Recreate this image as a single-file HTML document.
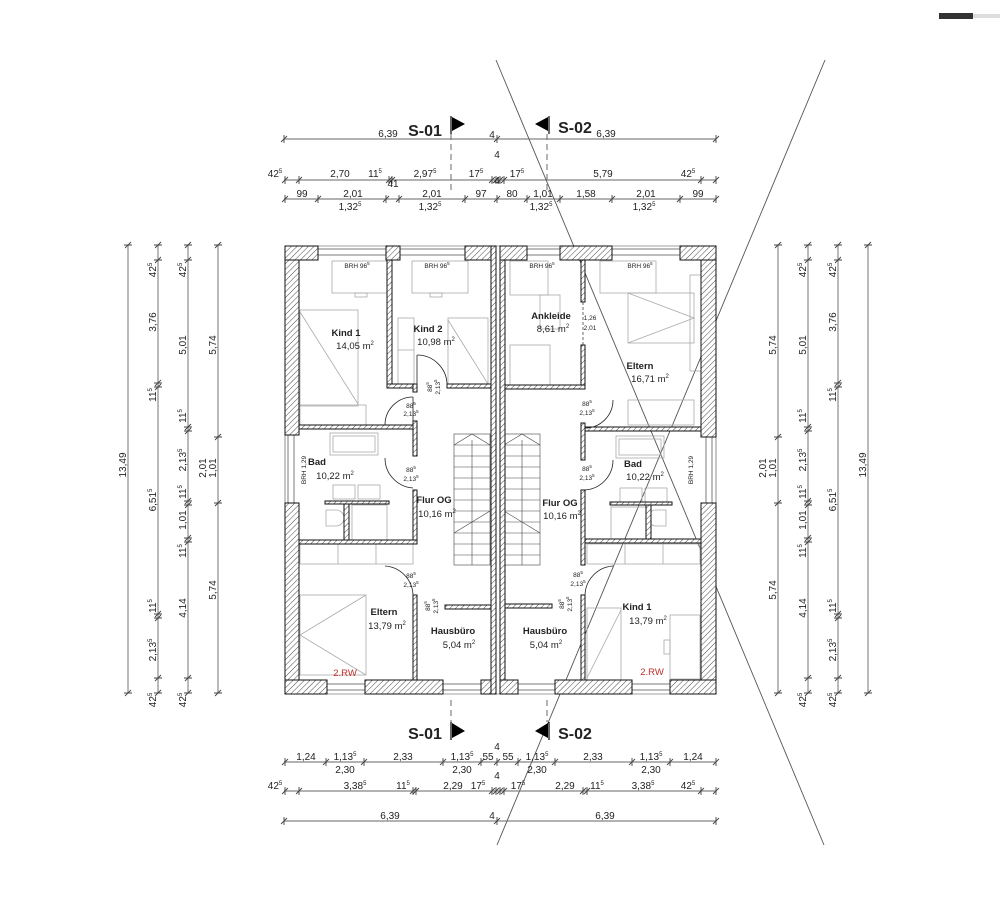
<!DOCTYPE html>
<html><head><meta charset="utf-8"><style>
html,body{margin:0;padding:0;background:#fff}
svg{display:block}
text{font-family:"Liberation Sans",Arial,sans-serif;fill:#222}
.d{font-size:10px;text-anchor:middle}
.s{font-size:6px}
.r{font-size:9.5px;font-weight:bold;text-anchor:middle}
.a{font-size:9.5px;text-anchor:middle}
.sm{font-size:6.5px;text-anchor:middle}
.w{fill:url(#h);stroke:#111;stroke-width:1}
.f{fill:none;stroke:#aaa;stroke-width:0.8}
.dl{stroke:#666;stroke-width:0.9;fill:none}
</style></head><body>
<svg width="1000" height="907" viewBox="0 0 1000 907" xmlns="http://www.w3.org/2000/svg">
<defs>
<pattern id="h" width="4" height="4" patternUnits="userSpaceOnUse" patternTransform="rotate(45)">
<rect width="4" height="4" fill="#fff"/><line x1="0" y1="0" x2="0" y2="4" stroke="#333" stroke-width="0.9"/>
</pattern>
<g id="tk"><path d="M-3 3L3-3M0-4V4" stroke="#444" stroke-width="0.9"/></g>
<g id="tv"><path d="M-3 3L3-3M-4 0H4" stroke="#444" stroke-width="0.9"/></g>
</defs>
<rect width="1000" height="907" fill="#fff"/>
<!-- top right bar -->
<rect x="939" y="13" width="34" height="6" fill="#333"/><rect x="973" y="14" width="27" height="4" fill="#ddd"/>

<!-- Diagonal lines -->
<line x1="496" y1="60" x2="824" y2="845" stroke="#555" stroke-width="0.9"/>
<line x1="825" y1="60" x2="497" y2="845" stroke="#555" stroke-width="0.9"/>

<!-- ===== TOP DIMENSIONS ===== -->
<text x="425" y="136" style="font-size:16px;font-weight:bold" text-anchor="middle">S-01</text>
<path d="M451 116V134" stroke="#000" stroke-width="1.2"/><path d="M452 117L465 124L452 131Z" fill="#000"/>
<path d="M549 116V134" stroke="#000" stroke-width="1.2"/><path d="M548 117L535 124L548 131Z" fill="#000"/>
<text x="575" y="133" style="font-size:16px;font-weight:bold" text-anchor="middle">S-02</text>
<path d="M451 134V192M547 134V192" stroke="#444" stroke-dasharray="6,4" stroke-width="0.8"/>

<line class="dl" x1="284" y1="139" x2="716" y2="139"/>
<use href="#tk" x="284" y="139"/><use href="#tk" x="497" y="139"/><use href="#tk" x="716" y="139"/>
<text class="d" x="388" y="137">6,39</text><text class="d" x="492" y="138">4</text><text class="d" x="606" y="137">6,39</text>

<line class="dl" x1="284" y1="180" x2="716" y2="180"/>
<use href="#tk" x="285" y="180"/><use href="#tk" x="299" y="180"/><use href="#tk" x="389" y="180"/><use href="#tk" x="392" y="180"/><use href="#tk" x="492" y="180"/><use href="#tk" x="496" y="180"/><use href="#tk" x="500" y="180"/><use href="#tk" x="504" y="180"/><use href="#tk" x="701" y="180"/><use href="#tk" x="716" y="180"/>
<text class="d" x="275" y="177">42<tspan class="s" dy="-4">5</tspan></text>
<text class="d" x="340" y="177">2,70</text>
<text class="d" x="375" y="177">11<tspan class="s" dy="-4">5</tspan></text>
<text class="d" x="425" y="177">2,97<tspan class="s" dy="-4">5</tspan></text>
<text class="d" x="476" y="177">17<tspan class="s" dy="-4">5</tspan></text>
<text class="d" x="497" y="158">4</text>
<text class="d" x="517" y="177">17<tspan class="s" dy="-4">5</tspan></text>
<text class="d" x="603" y="177">5,79</text>
<text class="d" x="688" y="177">42<tspan class="s" dy="-4">5</tspan></text>

<line class="dl" x1="284" y1="199" x2="716" y2="199"/>
<use href="#tk" x="285" y="199"/><use href="#tk" x="318" y="199"/><use href="#tk" x="386" y="199"/><use href="#tk" x="399" y="199"/><use href="#tk" x="465" y="199"/><use href="#tk" x="497" y="199"/><use href="#tk" x="527" y="199"/><use href="#tk" x="560" y="199"/><use href="#tk" x="612" y="199"/><use href="#tk" x="680" y="199"/><use href="#tk" x="716" y="199"/>
<text class="d" x="302" y="197">99</text>
<text class="d" x="353" y="197">2,01</text>
<text class="d" x="393" y="187">41</text>
<text class="d" x="432" y="197">2,01</text>
<text class="d" x="481" y="197">97</text>
<text class="d" x="497" y="184">4</text>
<text class="d" x="512" y="197">80</text>
<text class="d" x="543" y="197">1,01</text>
<text class="d" x="586" y="197">1,58</text>
<text class="d" x="646" y="197">2,01</text>
<text class="d" x="698" y="197">99</text>
<text class="d" x="350" y="210">1,32<tspan class="s" dy="-4">5</tspan></text>
<text class="d" x="430" y="210">1,32<tspan class="s" dy="-4">5</tspan></text>
<text class="d" x="541" y="210">1,32<tspan class="s" dy="-4">5</tspan></text>
<text class="d" x="644" y="210">1,32<tspan class="s" dy="-4">5</tspan></text>

<!-- ===== BOTTOM DIMENSIONS ===== -->
<path d="M451 700V722" stroke="#444" stroke-dasharray="6,4" stroke-width="0.8"/>
<path d="M547 700V722" stroke="#444" stroke-dasharray="6,4" stroke-width="0.8"/>
<text x="425" y="739" style="font-size:16px;font-weight:bold" text-anchor="middle">S-01</text>
<path d="M451 722V740" stroke="#000" stroke-width="1.2"/><path d="M452 723L465 731L452 738Z" fill="#000"/>
<path d="M549 722V740" stroke="#000" stroke-width="1.2"/><path d="M548 723L535 731L548 738Z" fill="#000"/>
<text x="575" y="739" style="font-size:16px;font-weight:bold" text-anchor="middle">S-02</text>

<line class="dl" x1="284" y1="762" x2="716" y2="762"/>
<use href="#tk" x="285" y="762"/><use href="#tk" x="326" y="762"/><use href="#tk" x="364" y="762"/><use href="#tk" x="443" y="762"/><use href="#tk" x="481" y="762"/><use href="#tk" x="497" y="762"/><use href="#tk" x="518" y="762"/><use href="#tk" x="555" y="762"/><use href="#tk" x="632" y="762"/><use href="#tk" x="670" y="762"/><use href="#tk" x="716" y="762"/>
<text class="d" x="306" y="760">1,24</text>
<text class="d" x="345" y="760">1,13<tspan class="s" dy="-4">5</tspan></text>
<text class="d" x="403" y="760">2,33</text>
<text class="d" x="462" y="760">1,13<tspan class="s" dy="-4">5</tspan></text>
<text class="d" x="488" y="760">55</text>
<text class="d" x="508" y="760">55</text>
<text class="d" x="537" y="760">1,13<tspan class="s" dy="-4">5</tspan></text>
<text class="d" x="593" y="760">2,33</text>
<text class="d" x="651" y="760">1,13<tspan class="s" dy="-4">5</tspan></text>
<text class="d" x="693" y="760">1,24</text>
<text class="d" x="497" y="750">4</text>
<text class="d" x="345" y="773">2,30</text>
<text class="d" x="462" y="773">2,30</text>
<text class="d" x="537" y="773">2,30</text>
<text class="d" x="651" y="773">2,30</text>

<line class="dl" x1="284" y1="791" x2="716" y2="791"/>
<use href="#tk" x="285" y="791"/><use href="#tk" x="299" y="791"/><use href="#tk" x="413" y="791"/><use href="#tk" x="416" y="791"/><use href="#tk" x="492" y="791"/><use href="#tk" x="496" y="791"/><use href="#tk" x="500" y="791"/><use href="#tk" x="504" y="791"/><use href="#tk" x="583" y="791"/><use href="#tk" x="587" y="791"/><use href="#tk" x="701" y="791"/><use href="#tk" x="716" y="791"/>
<text class="d" x="275" y="789">42<tspan class="s" dy="-4">5</tspan></text>
<text class="d" x="355" y="789">3,38<tspan class="s" dy="-4">5</tspan></text>
<text class="d" x="403" y="789">11<tspan class="s" dy="-4">5</tspan></text>
<text class="d" x="453" y="789">2,29</text>
<text class="d" x="478" y="789">17<tspan class="s" dy="-4">5</tspan></text>
<text class="d" x="497" y="779">4</text>
<text class="d" x="518" y="789">17<tspan class="s" dy="-4">5</tspan></text>
<text class="d" x="565" y="789">2,29</text>
<text class="d" x="597" y="789">11<tspan class="s" dy="-4">5</tspan></text>
<text class="d" x="643" y="789">3,38<tspan class="s" dy="-4">5</tspan></text>
<text class="d" x="688" y="789">42<tspan class="s" dy="-4">5</tspan></text>

<line class="dl" x1="284" y1="821" x2="716" y2="821"/>
<use href="#tk" x="284" y="821"/><use href="#tk" x="497" y="821"/><use href="#tk" x="716" y="821"/>
<text class="d" x="390" y="819">6,39</text><text class="d" x="492" y="819">4</text><text class="d" x="605" y="819">6,39</text>

<!-- ===== LEFT VERTICAL DIMS ===== -->
<g>
<line class="dl" x1="128" y1="245" x2="128" y2="693"/>
<use href="#tv" x="128" y="245"/><use href="#tv" x="128" y="693"/>
<text class="d" transform="translate(126,465) rotate(-90)">13,49</text>

<line class="dl" x1="158" y1="245" x2="158" y2="693"/>
<use href="#tv" x="158" y="245"/><use href="#tv" x="158" y="260"/><use href="#tv" x="158" y="383"/><use href="#tv" x="158" y="387"/><use href="#tv" x="158" y="614"/><use href="#tv" x="158" y="618"/><use href="#tv" x="158" y="678"/><use href="#tv" x="158" y="693"/>
<text class="d" transform="translate(156,270) rotate(-90)">42<tspan class="s" dy="-4">5</tspan></text>
<text class="d" transform="translate(156,322) rotate(-90)">3,76</text>
<text class="d" transform="translate(156,395) rotate(-90)">11<tspan class="s" dy="-4">5</tspan></text>
<text class="d" transform="translate(156,500) rotate(-90)">6,51<tspan class="s" dy="-4">5</tspan></text>
<text class="d" transform="translate(156,606) rotate(-90)">11<tspan class="s" dy="-4">5</tspan></text>
<text class="d" transform="translate(156,650) rotate(-90)">2,13<tspan class="s" dy="-4">5</tspan></text>
<text class="d" transform="translate(156,700) rotate(-90)">42<tspan class="s" dy="-4">5</tspan></text>

<line class="dl" x1="188" y1="245" x2="188" y2="693"/>
<use href="#tv" x="188" y="245"/><use href="#tv" x="188" y="260"/><use href="#tv" x="188" y="427"/><use href="#tv" x="188" y="431"/><use href="#tv" x="188" y="501"/><use href="#tv" x="188" y="505"/><use href="#tv" x="188" y="538"/><use href="#tv" x="188" y="542"/><use href="#tv" x="188" y="678"/><use href="#tv" x="188" y="693"/>
<text class="d" transform="translate(186,270) rotate(-90)">42<tspan class="s" dy="-4">5</tspan></text>
<text class="d" transform="translate(186,345) rotate(-90)">5,01</text>
<text class="d" transform="translate(186,416) rotate(-90)">11<tspan class="s" dy="-4">5</tspan></text>
<text class="d" transform="translate(186,460) rotate(-90)">2,13<tspan class="s" dy="-4">5</tspan></text>
<text class="d" transform="translate(186,492) rotate(-90)">11<tspan class="s" dy="-4">5</tspan></text>
<text class="d" transform="translate(186,520) rotate(-90)">1,01</text>
<text class="d" transform="translate(186,551) rotate(-90)">11<tspan class="s" dy="-4">5</tspan></text>
<text class="d" transform="translate(186,608) rotate(-90)">4,14</text>
<text class="d" transform="translate(186,700) rotate(-90)">42<tspan class="s" dy="-4">5</tspan></text>

<line class="dl" x1="218" y1="245" x2="218" y2="693"/>
<use href="#tv" x="218" y="245"/><use href="#tv" x="218" y="437"/><use href="#tv" x="218" y="503"/><use href="#tv" x="218" y="693"/>
<text class="d" transform="translate(216,345) rotate(-90)">5,74</text>
<text class="d" transform="translate(206,468) rotate(-90)">2,01</text>
<text class="d" transform="translate(216,468) rotate(-90)">1,01</text>
<text class="d" transform="translate(216,590) rotate(-90)">5,74</text>
</g>

<!-- ===== RIGHT VERTICAL DIMS ===== -->
<g>
<line class="dl" x1="778" y1="245" x2="778" y2="693"/>
<use href="#tv" x="778" y="245"/><use href="#tv" x="778" y="437"/><use href="#tv" x="778" y="503"/><use href="#tv" x="778" y="693"/>
<text class="d" transform="translate(776,345) rotate(-90)">5,74</text>
<text class="d" transform="translate(766,468) rotate(-90)">2,01</text>
<text class="d" transform="translate(776,468) rotate(-90)">1,01</text>
<text class="d" transform="translate(776,590) rotate(-90)">5,74</text>

<line class="dl" x1="808" y1="245" x2="808" y2="693"/>
<use href="#tv" x="808" y="245"/><use href="#tv" x="808" y="260"/><use href="#tv" x="808" y="427"/><use href="#tv" x="808" y="431"/><use href="#tv" x="808" y="501"/><use href="#tv" x="808" y="505"/><use href="#tv" x="808" y="538"/><use href="#tv" x="808" y="542"/><use href="#tv" x="808" y="678"/><use href="#tv" x="808" y="693"/>
<text class="d" transform="translate(806,270) rotate(-90)">42<tspan class="s" dy="-4">5</tspan></text>
<text class="d" transform="translate(806,345) rotate(-90)">5,01</text>
<text class="d" transform="translate(806,416) rotate(-90)">11<tspan class="s" dy="-4">5</tspan></text>
<text class="d" transform="translate(806,460) rotate(-90)">2,13<tspan class="s" dy="-4">5</tspan></text>
<text class="d" transform="translate(806,492) rotate(-90)">11<tspan class="s" dy="-4">5</tspan></text>
<text class="d" transform="translate(806,520) rotate(-90)">1,01</text>
<text class="d" transform="translate(806,551) rotate(-90)">11<tspan class="s" dy="-4">5</tspan></text>
<text class="d" transform="translate(806,608) rotate(-90)">4,14</text>
<text class="d" transform="translate(806,700) rotate(-90)">42<tspan class="s" dy="-4">5</tspan></text>

<line class="dl" x1="838" y1="245" x2="838" y2="693"/>
<use href="#tv" x="838" y="245"/><use href="#tv" x="838" y="260"/><use href="#tv" x="838" y="383"/><use href="#tv" x="838" y="387"/><use href="#tv" x="838" y="614"/><use href="#tv" x="838" y="618"/><use href="#tv" x="838" y="678"/><use href="#tv" x="838" y="693"/>
<text class="d" transform="translate(836,270) rotate(-90)">42<tspan class="s" dy="-4">5</tspan></text>
<text class="d" transform="translate(836,322) rotate(-90)">3,76</text>
<text class="d" transform="translate(836,395) rotate(-90)">11<tspan class="s" dy="-4">5</tspan></text>
<text class="d" transform="translate(836,500) rotate(-90)">6,51<tspan class="s" dy="-4">5</tspan></text>
<text class="d" transform="translate(836,606) rotate(-90)">11<tspan class="s" dy="-4">5</tspan></text>
<text class="d" transform="translate(836,650) rotate(-90)">2,13<tspan class="s" dy="-4">5</tspan></text>
<text class="d" transform="translate(836,700) rotate(-90)">42<tspan class="s" dy="-4">5</tspan></text>

<line class="dl" x1="868" y1="245" x2="868" y2="693"/>
<use href="#tv" x="868" y="245"/><use href="#tv" x="868" y="693"/>
<text class="d" transform="translate(866,465) rotate(-90)">13,49</text>
</g>

<!-- ===== FURNITURE (light) ===== -->
<g class="f">
<!-- left unit -->
<rect x="332" y="261" width="56" height="32"/><rect x="355" y="293" width="12" height="4"/>
<rect x="412" y="261" width="56" height="32"/><rect x="430" y="293" width="12" height="4"/>
<rect x="300" y="310" width="58" height="96"/><path d="M300 312L358 404"/>
<rect x="448" y="318" width="40" height="66"/><path d="M448 320L488 384"/>
<rect x="398" y="318" width="16" height="66"/><path d="M398 350H414"/>
<rect x="300" y="405" width="66" height="20"/>
<rect x="330" y="433" width="48" height="22"/><rect x="333" y="436" width="42" height="16"/>
<rect x="333" y="485" width="22" height="14"/><rect x="358" y="485" width="22" height="14"/>
<rect x="352" y="505" width="35" height="35"/>
<path d="M326 510h10a8 8 0 0 1 0 16h-10z"/>
<rect x="300" y="544" width="113" height="20"/><path d="M338 544v20M376 544v20"/>
<rect x="300" y="595" width="66" height="80"/><path d="M366 595L300 635L366 675"/>
<!-- right unit -->
<rect x="510" y="261" width="38" height="34"/><rect x="540" y="295" width="20" height="34"/>
<rect x="600" y="261" width="56" height="32"/>
<rect x="628" y="293" width="66" height="50"/><path d="M628 293L694 318L628 343"/>
<rect x="690" y="275" width="12" height="96"/>
<rect x="510" y="345" width="40" height="40"/>
<rect x="628" y="400" width="66" height="25"/>
<rect x="616" y="436" width="48" height="22"/><rect x="619" y="439" width="42" height="16"/>
<rect x="620" y="488" width="22" height="14"/><rect x="645" y="488" width="22" height="14"/>
<rect x="611" y="507" width="35" height="32"/>
<path d="M666 510h-10a8 8 0 0 0 0 16h10z"/>
<rect x="587" y="544" width="113" height="20"/><path d="M625 544v20M663 544v20"/>
<rect x="587" y="608" width="34" height="72"/><path d="M621 610L587 678"/>
<rect x="670" y="615" width="30" height="64"/><rect x="664" y="640" width="6" height="14"/>
</g>

<!-- ===== STAIRS ===== -->
<g stroke="#444" stroke-width="0.6" fill="none">
<rect x="454" y="434" width="36" height="131"/>
<path d="M454 445H490M454 456H490M454 467H490M454 478H490M454 489H490M454 500H490M454 511H490M454 522H490M454 533H490M454 544H490M454 555H490"/>
<path d="M454 445L472 434L490 445M454 533L490 511M472 440V565"/>
<rect x="504" y="434" width="36" height="131"/>
<path d="M504 445H540M504 456H540M504 467H540M504 478H540M504 489H540M504 500H540M504 511H540M504 522H540M504 533H540M504 544H540M504 555H540"/>
<path d="M504 445L522 434L540 445M540 533L504 511M522 440V565"/>
</g>

<!-- ===== WALLS ===== -->
<g>
<!-- windows frames (thin) -->
<g fill="#fff" stroke="#444" stroke-width="0.7">
<rect x="318" y="249" width="68" height="6"/><rect x="400" y="249" width="65" height="6"/>
<rect x="527" y="249" width="33" height="6"/><rect x="612" y="249" width="68" height="6"/>
<rect x="327" y="684" width="38" height="6"/><rect x="443" y="684" width="38" height="6"/>
<rect x="518" y="684" width="37" height="6"/><rect x="632" y="684" width="38" height="6"/>
<rect x="288" y="435" width="6" height="68"/><rect x="706" y="437" width="6" height="66"/>
</g>
<path d="M285 246H716M285 694H716M285 246V694M716 246V694" stroke="#444" stroke-width="0.6" fill="none"/>
<!-- left outer -->
<rect class="w" x="285" y="246" width="14" height="189"/>
<rect class="w" x="285" y="503" width="14" height="191"/>
<rect class="w" x="285" y="246" width="33" height="14"/>
<rect class="w" x="386" y="246" width="14" height="14"/>
<rect class="w" x="465" y="246" width="31" height="14"/>
<rect class="w" x="285" y="680" width="42" height="14"/>
<rect class="w" x="365" y="680" width="78" height="14"/>
<rect class="w" x="481" y="680" width="15" height="14"/>
<!-- party walls -->
<rect class="w" x="491" y="246" width="5" height="448"/>
<rect class="w" x="500" y="246" width="5" height="448"/>
<!-- right outer -->
<rect class="w" x="701" y="246" width="15" height="191"/>
<rect class="w" x="701" y="503" width="15" height="191"/>
<rect class="w" x="500" y="246" width="27" height="14"/>
<rect class="w" x="560" y="246" width="52" height="14"/>
<rect class="w" x="680" y="246" width="36" height="14"/>
<rect class="w" x="500" y="680" width="18" height="14"/>
<rect class="w" x="555" y="680" width="77" height="14"/>
<rect class="w" x="670" y="680" width="46" height="14"/>
<!-- left interior -->
<rect class="w" x="387" y="260" width="5" height="128"/>
<rect class="w" x="387" y="384" width="28" height="4"/>
<rect class="w" x="413" y="384" width="4" height="8"/>
<rect class="w" x="447" y="384" width="44" height="4"/>
<rect class="w" x="299" y="425" width="118" height="4"/>
<rect class="w" x="413" y="421" width="4" height="35"/>
<rect class="w" x="413" y="490" width="4" height="54"/>
<rect class="w" x="299" y="540" width="118" height="4"/>
<rect class="w" x="325" y="501" width="64" height="3"/>
<rect class="w" x="344" y="504" width="5" height="36"/>
<rect class="w" x="413" y="595" width="4" height="85"/>
<rect class="w" x="445" y="605" width="46" height="4"/>
<!-- right interior -->
<rect class="w" x="581" y="260" width="4" height="42"/>
<rect class="w" x="581" y="345" width="4" height="44"/>
<rect class="w" x="505" y="385" width="80" height="4"/>
<rect class="w" x="581" y="423" width="4" height="37"/>
<rect class="w" x="585" y="427" width="116" height="4"/>
<rect class="w" x="581" y="490" width="4" height="75"/>
<rect class="w" x="585" y="539" width="116" height="4"/>
<rect class="w" x="610" y="502" width="62" height="3"/>
<rect class="w" x="646" y="505" width="5" height="34"/>
<rect class="w" x="581" y="595" width="4" height="85"/>
<rect class="w" x="505" y="604" width="47" height="4"/>
<path d="M583 302V345" stroke="#444" stroke-width="0.8" stroke-dasharray="3,2"/>
</g>

<!-- doors -->
<g fill="none" stroke="#222" stroke-width="0.8">
<path d="M385 425A28 28 0 0 1 413 397"/><path d="M413 425V397"/>
<path d="M417 355A30 30 0 0 1 447 385"/><path d="M417 385V355"/>
<path d="M385 458A30 30 0 0 0 413 488"/>
<path d="M385 566A30 30 0 0 1 413 595"/>
<path d="M613 400A28 28 0 0 1 585 428"/>
<path d="M613 460A30 30 0 0 1 585 490"/>
<path d="M613 566A30 30 0 0 0 585 595"/>
</g>

<!-- ===== LABELS ===== -->
<g>
<text class="sm" x="357" y="268">BRH 96<tspan dy="-3" font-size="4.5">5</tspan></text>
<text class="sm" x="437" y="268">BRH 96<tspan dy="-3" font-size="4.5">5</tspan></text>
<text class="sm" x="542" y="268">BRH 96<tspan dy="-3" font-size="4.5">5</tspan></text>
<text class="sm" x="640" y="268">BRH 96<tspan dy="-3" font-size="4.5">5</tspan></text>
<text class="sm" transform="translate(306,470) rotate(-90)">BRH 1,29</text>
<text class="sm" transform="translate(693,470) rotate(-90)">BRH 1,29</text>

<text class="r" x="346" y="336">Kind 1</text><text class="a" x="355" y="349">14,05 m<tspan dy="-4" font-size="6">2</tspan></text>
<text class="r" x="428" y="332">Kind 2</text><text class="a" x="436" y="345">10,98 m<tspan dy="-4" font-size="6">2</tspan></text>
<text class="r" x="317" y="465">Bad</text><text class="a" x="335" y="479">10,22 m<tspan dy="-4" font-size="6">2</tspan></text>
<text class="r" x="434" y="503">Flur OG</text><text class="a" x="437" y="517">10,16 m<tspan dy="-4" font-size="6">2</tspan></text>
<text class="r" x="384" y="615">Eltern</text><text class="a" x="387" y="629">13,79 m<tspan dy="-4" font-size="6">2</tspan></text>
<text class="r" x="453" y="634">Hausbüro</text><text class="a" x="459" y="648">5,04 m<tspan dy="-4" font-size="6">2</tspan></text>
<text class="a" x="345" y="676" style="fill:#c0302a">2.RW</text>

<text class="r" x="551" y="319">Ankleide</text><text class="a" x="553" y="332">8,61 m<tspan dy="-4" font-size="6">2</tspan></text>
<text class="r" x="640" y="369">Eltern</text><text class="a" x="650" y="382">16,71 m<tspan dy="-4" font-size="6">2</tspan></text>
<text class="r" x="633" y="467">Bad</text><text class="a" x="645" y="480">10,22 m<tspan dy="-4" font-size="6">2</tspan></text>
<text class="r" x="560" y="506">Flur OG</text><text class="a" x="562" y="519">10,16 m<tspan dy="-4" font-size="6">2</tspan></text>
<text class="r" x="637" y="610">Kind 1</text><text class="a" x="648" y="624">13,79 m<tspan dy="-4" font-size="6">2</tspan></text>
<text class="r" x="545" y="634">Hausbüro</text><text class="a" x="546" y="648">5,04 m<tspan dy="-4" font-size="6">2</tspan></text>
<text class="a" x="652" y="675" style="fill:#c0302a">2.RW</text>

<!-- door dims -->
<g class="sm">
<text x="411" y="408">88<tspan dy="-3" font-size="4.5">5</tspan></text><text x="411" y="416">2,13<tspan dy="-3" font-size="4.5">5</tspan></text>
<text transform="translate(432,387) rotate(-90)" x="0" y="0">88<tspan dy="-3" font-size="4.5">5</tspan></text><text transform="translate(440,387) rotate(-90)">2,13<tspan dy="-3" font-size="4.5">5</tspan></text>
<text x="411" y="472">88<tspan dy="-3" font-size="4.5">5</tspan></text><text x="411" y="481">2,13<tspan dy="-3" font-size="4.5">5</tspan></text>
<text x="411" y="578">88<tspan dy="-3" font-size="4.5">5</tspan></text><text x="411" y="587">2,13<tspan dy="-3" font-size="4.5">5</tspan></text>
<text transform="translate(430,606) rotate(-90)">88<tspan dy="-3" font-size="4.5">5</tspan></text><text transform="translate(438,606) rotate(-90)">2,13<tspan dy="-3" font-size="4.5">5</tspan></text>
<text x="587" y="406">88<tspan dy="-3" font-size="4.5">5</tspan></text><text x="587" y="415">2,13<tspan dy="-3" font-size="4.5">5</tspan></text>
<text x="587" y="471">88<tspan dy="-3" font-size="4.5">5</tspan></text><text x="587" y="480">2,13<tspan dy="-3" font-size="4.5">5</tspan></text>
<text x="578" y="577">88<tspan dy="-3" font-size="4.5">5</tspan></text><text x="578" y="586">2,13<tspan dy="-3" font-size="4.5">5</tspan></text>
<text transform="translate(564,604) rotate(-90)">88<tspan dy="-3" font-size="4.5">5</tspan></text><text transform="translate(572,604) rotate(-90)">2,13<tspan dy="-3" font-size="4.5">5</tspan></text>
<text x="590" y="320">1,26</text><text x="590" y="330">2,01</text>
</g>
</g>
</svg>
</body></html>
